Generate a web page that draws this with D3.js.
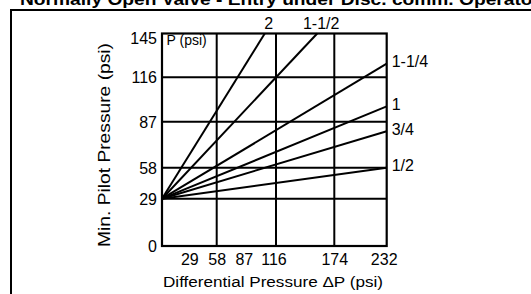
<!DOCTYPE html>
<html>
<head>
<meta charset="utf-8">
<script src="https://cdn.jsdelivr.net/npm/d3@7"></script>
<style>
  body { margin: 0; background: #fff; }
  svg text { font-family: "Liberation Sans", Arial, sans-serif; fill: #000; }
</style>
</head>
<body>
<div id="chart"></div>
<script>
// Data
const xTicks = [29, 58, 87, 116, 174, 232];
const xGrid = [0, 58, 116, 174, 232];
const yTicks = [0, 29, 58, 87, 116, 145];
const series = [
    { name: '2',     x: 105, y: 145 },
    { name: '1-1/2', x: 157, y: 145 },
    { name: '1-1/4', x: 232, y: 125 },
    { name: '1',     x: 232, y: 97 },
    { name: '3/4',   x: 232, y: 81 },
    { name: '1/2',   x: 232, y: 58 }
];
const origin = { x: 0, y: 29 };

const W = 531, H = 294;
const svg = d3.select('#chart').append('svg')
    .attr('width', W)
    .attr('height', H);

// the printed grid is not evenly spaced, so the scales are piecewise
const xScale = d3.scaleLinear()
    .domain(xGrid)
    .range([162, 216.7, 276, 334.3, 386.7]);
const yScale = d3.scaleLinear()
    .domain(yTicks)
    .range([246, 198.7, 167.7, 121.7, 77.3, 33.5]);

// Title (clipped at the top of the page, as in the source)
svg.append('text')
    .attr('x', 20)
    .attr('y', 5)
    .attr('textLength', 520)
    .attr('lengthAdjust', 'spacingAndGlyphs')
    .style('font-size', '16px')
    .style('font-weight', 'bold')
    .text('Normally Open Valve - Entry under Disc. comm. Operator');

// Outer frame
svg.append('rect')
    .attr('x', 11)
    .attr('y', 10)
    .attr('width', 700)
    .attr('height', 400)
    .attr('fill', 'none')
    .attr('stroke', '#000')
    .attr('stroke-width', 2);

// Grid
const grid = svg.append('g').attr('stroke', '#000').attr('stroke-width', 2);
grid.selectAll('.vline')
    .data(xGrid.slice(1, -1))
    .join('line')
    .attr('class', 'vline')
    .attr('x1', d => xScale(d)).attr('x2', d => xScale(d))
    .attr('y1', yScale(0)).attr('y2', yScale(145));
grid.selectAll('.hline')
    .data(yTicks.slice(1, -1))
    .join('line')
    .attr('class', 'hline')
    .attr('x1', xScale(0)).attr('x2', xScale(232))
    .attr('y1', d => yScale(d)).attr('y2', d => yScale(d));

svg.append('rect')
    .attr('x', xScale(0))
    .attr('y', yScale(145))
    .attr('width', xScale(232) - xScale(0))
    .attr('height', yScale(0) - yScale(145))
    .attr('fill', 'none')
    .attr('stroke', '#000')
    .attr('stroke-width', 2.2);

// Axes
const yAxis = svg.append('g')
    .attr('transform', `translate(${xScale(0)},0)`)
    .call(d3.axisLeft(yScale).tickValues(yTicks).tickSize(0).tickPadding(5));
yAxis.select('.domain').remove();
yAxis.selectAll('text')
    .style('font-size', '16px')
    .attr('dy', d => d === 145 ? '0.6em' : '0.35em');

const xAxis = svg.append('g')
    .attr('transform', `translate(0,${yScale(0)})`)
    .call(d3.axisBottom(xScale).tickValues(xTicks).tickSize(0).tickPadding(8));
xAxis.select('.domain').remove();
xAxis.selectAll('text')
    .style('font-size', '16px')
    .attr('dx', d => (d === 87 || d === 116) ? -2.5 : (d === 232 ? -3 : 0));

svg.append('text')
    .attr('transform', 'rotate(-90)')
    .attr('x', -145)
    .attr('y', 110)
    .attr('textLength', 204)
    .attr('lengthAdjust', 'spacingAndGlyphs')
    .style('text-anchor', 'middle')
    .style('font-size', '17px')
    .text('Min. Pilot Pressure (psi)');

svg.append('text')
    .attr('x', 273)
    .attr('y', 287)
    .attr('textLength', 220)
    .attr('lengthAdjust', 'spacingAndGlyphs')
    .style('text-anchor', 'middle')
    .style('font-size', '15.5px')
    .text('Differential Pressure  \u0394P (psi)');

svg.append('text')
    .attr('x', xScale(0) + 4.5)
    .attr('y', 45)
    .style('font-size', '14px')
    .text('P (psi)');

// Lines
svg.append('g')
    .selectAll('line')
    .data(series)
    .join('line')
    .attr('x1', xScale(origin.x))
    .attr('y1', yScale(origin.y))
    .attr('x2', d => xScale(d.x))
    .attr('y2', d => yScale(d.y))
    .attr('stroke', '#000')
    .attr('stroke-width', 2);

// Line labels
svg.append('g')
    .selectAll('text')
    .data(series)
    .join('text')
    .attr('x', d => d.y === 145 ? xScale(d.x) + 4 : xScale(d.x) + 5)
    .attr('y', d => d.y === 145 ? yScale(d.y) - 5 : yScale(d.y) - 2)
    .attr('dy', d => d.y === 145 ? 0 : '0.35em')
    .style('text-anchor', d => d.y === 145 ? 'middle' : 'start')
    .style('font-size', '16px')
    .text(d => d.name);
</script>
</body>
</html>
